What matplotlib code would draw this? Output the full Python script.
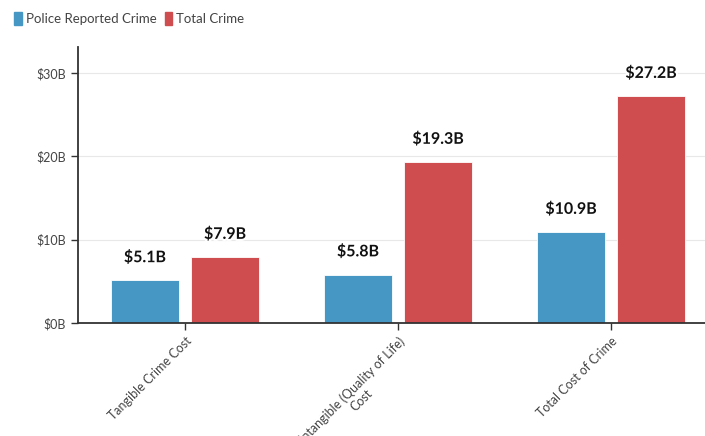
import numpy as np
import matplotlib.pyplot as plt
from matplotlib.patches import Patch
import matplotlib.patheffects as pe

plt.rcParams['font.family'] = ['Lato', 'DejaVu Sans']

categories = ['Tangible Crime Cost', 'Intangible (Quality of Life)\nCost', 'Total Cost of Crime']
police_reported = [5.1, 5.8, 10.9]
total_crime = [7.9, 19.3, 27.2]
series_names = ['Police Reported Crime', 'Total Crime']
colors = ['#4797c5', '#cf4d4f']

fig = plt.figure(figsize=(7.05, 4.36), dpi=100)
ax = fig.add_axes([78 / 705, 113 / 436, 627 / 705, 276 / 436])

x = np.arange(len(categories))
offset = 0.188
width = 0.319

for vals, dx, c in zip([police_reported, total_crime], [-offset, offset], colors):
    bars = ax.bar(x + dx, vals, width=width, color=c, edgecolor='#ffffff', linewidth=0.6, zorder=2)
    for b, v in zip(bars, vals):
        ax.annotate(f'${v}B', (b.get_x() + b.get_width() / 2, v), xytext=(0, 11),
                    textcoords='offset points', ha='center', va='bottom',
                    fontsize=11.5, fontweight='bold', color='#111111', zorder=4,
                    path_effects=[pe.withStroke(linewidth=3, foreground='white')])

ax.set_xlim(-0.502, 2.441)
ax.set_ylim(0, 33.1)
ax.set_yticks([0, 10, 20, 30])
ax.set_yticklabels(['$0B', '$10B', '$20B', '$30B'])
ax.yaxis.grid(True, color='#e8e8e8', linewidth=0.8, zorder=0)
ax.set_axisbelow(True)

ax.set_xticks(x)
ax.set_xticklabels(categories, rotation=45, ha='right', rotation_mode='anchor', multialignment='center')

for side in ['top', 'right']:
    ax.spines[side].set_visible(False)
for side in ['left', 'bottom']:
    ax.spines[side].set_color('#333333')
    ax.spines[side].set_linewidth(1.3)
ax.tick_params(axis='both', colors='#333333', labelcolor='#444444', labelsize=9, length=5, width=1)

handles = [Patch(facecolor=c, edgecolor=c, label=n) for c, n in zip(colors, series_names)]
fig.legend(handles=handles, loc='upper left', bbox_to_anchor=(0.003, 1.0), ncol=2, frameon=False,
           fontsize=9.5, handlelength=0.6, handleheight=1.2, handletextpad=0.3, columnspacing=0.6,
           labelcolor='#444444', borderaxespad=0.5)

fig.savefig('out.png', dpi=100)
